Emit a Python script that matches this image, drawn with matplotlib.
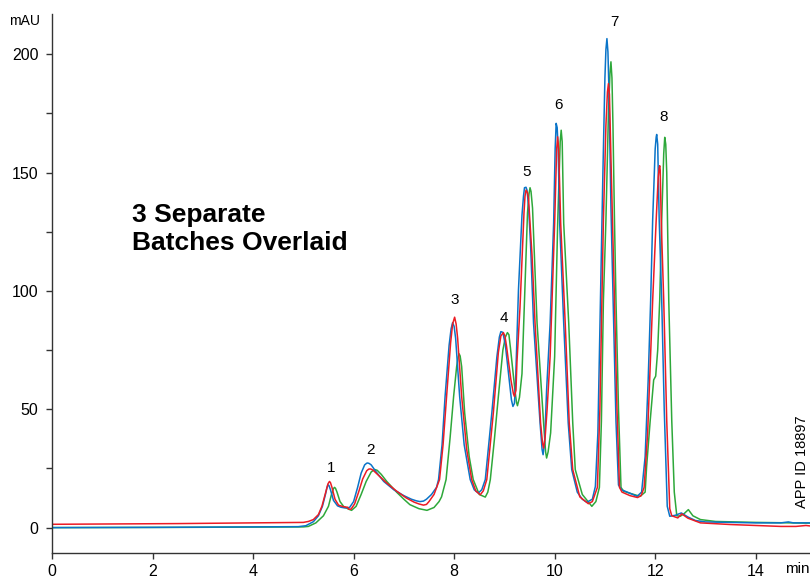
import matplotlib
matplotlib.use("Agg")
import matplotlib.pyplot as plt
from matplotlib.ticker import MultipleLocator

# --- data (time in min, signal in mAU) ---
blue_t = [0.0, 2.0, 4.0, 4.9, 5.05, 5.2, 5.3, 5.38, 5.44, 5.47, 5.49, 5.51, 5.54, 5.6, 5.68,
          5.75, 5.83, 5.92, 6.0, 6.08, 6.15, 6.22, 6.26, 6.28, 6.31, 6.35, 6.45, 6.6, 6.8, 7.0,
          7.15, 7.25, 7.32, 7.39, 7.45, 7.55, 7.65, 7.69, 7.76, 7.82, 7.9, 7.94, 7.97, 8.0, 8.03,
          8.11, 8.2, 8.32, 8.4, 8.48, 8.55, 8.62, 8.75, 8.85, 8.9, 8.93, 8.97, 9.02, 9.08, 9.14,
          9.17, 9.2, 9.22, 9.28, 9.35, 9.38, 9.4, 9.43, 9.45, 9.48, 9.52, 9.58, 9.71, 9.75, 9.77,
          9.8, 9.84, 9.91, 9.98, 10.01, 10.03, 10.05, 10.07, 10.1, 10.18, 10.27, 10.34, 10.45,
          10.55, 10.64, 10.75, 10.81, 10.86, 10.91, 10.96, 11.0, 11.02, 11.04, 11.06, 11.08, 11.12,
          11.17, 11.22, 11.27, 11.33, 11.5, 11.64, 11.73, 11.8, 11.86, 11.91, 11.95, 12.0, 12.02,
          12.03, 12.05, 12.08, 12.13, 12.18, 12.24, 12.29, 12.4, 12.52, 12.65, 12.8, 13.0, 14.0,
          14.5, 14.65, 14.75, 15.08]
blue_mau = [0.0, 0.1, 0.3, 0.4, 0.8, 2.5, 5.0, 9.0, 14.0, 16.8, 18.1, 17.8, 16.0, 11.5, 9.2,
            8.6, 8.3, 8.5, 11.0, 17.0, 23.0, 26.5, 27.2, 27.3, 27.1, 26.5, 23.5, 19.5, 16.0, 13.5,
            12.0, 11.3, 11.0, 11.2, 12.0, 14.0, 17.0, 20.3, 35.0, 55.4, 77.0, 84.0, 86.6, 85.0, 80.0,
            55.4, 35.0, 20.3, 16.0, 14.6, 16.0, 20.3, 48.4, 72.0, 80.5, 82.8, 82.5, 77.0, 65.3, 54.0,
            51.2, 52.5, 60.0, 100.4, 132.0, 140.0, 143.6, 143.8, 142.6, 136.0, 120.0, 86.4, 44.2, 33.0, 30.8,
            36.0, 58.2, 86.4, 128.6, 160.0, 170.8, 169.0, 160.0, 128.6, 86.4, 44.2, 24.5, 15.0,
            12.0, 10.7, 12.0, 17.4, 40.0, 96.0, 150.0, 190.0, 202.0, 206.6, 201.0, 185.0, 135.0,
            90.0, 45.0, 18.0, 16.0, 14.5, 13.2, 15.0, 30.0, 62.0, 96.0, 130.0, 160.0, 165.0,
            166.1, 162.0, 130.0, 96.0, 50.0, 9.0, 4.8, 5.2, 6.2, 4.5, 3.0, 2.4, 2.0,
            2.0, 2.4, 2.0, 2.0]

red_t = [0.0, 2.5, 5.0, 5.1, 5.2, 5.3, 5.37, 5.44, 5.49, 5.52, 5.54, 5.57, 5.63, 5.7, 5.8,
         5.88, 5.9, 5.95, 6.02, 6.1, 6.18, 6.26, 6.3, 6.33, 6.36, 6.4, 6.5, 6.65, 6.85, 7.05,
         7.2, 7.3, 7.39, 7.45, 7.5, 7.6, 7.71, 7.78, 7.85, 7.93, 7.97, 8.01, 8.04, 8.07, 8.15,
         8.25, 8.35, 8.43, 8.52, 8.58, 8.65, 8.78, 8.88, 8.93, 8.98, 9.01, 9.04, 9.13, 9.18, 9.2,
         9.23, 9.25, 9.31, 9.39, 9.41, 9.43, 9.46, 9.48, 9.55, 9.61, 9.72, 9.76, 9.78, 9.81, 9.85,
         9.91, 10.0, 10.04, 10.06, 10.08, 10.12, 10.21, 10.29, 10.36, 10.5, 10.67, 10.75, 10.85,
         10.9, 10.94, 10.97, 11.02, 11.05, 11.07, 11.09, 11.11, 11.15, 11.19, 11.24, 11.29, 11.34,
         11.5, 11.65, 11.72, 11.78, 11.85, 11.95, 12.02, 12.06, 12.08, 12.09, 12.1, 12.12, 12.17,
         12.23, 12.29, 12.33, 12.45, 12.53, 12.65, 12.9, 13.5, 14.0, 14.5, 14.8, 15.0, 15.08]
red_mau = [1.4, 1.7, 2.2, 2.6, 3.4, 5.5, 9.0, 14.5, 18.5, 19.5, 19.0, 17.0, 12.0, 9.5, 8.8,
           8.6, 7.8, 7.8, 10.0, 15.0, 20.5, 24.0, 24.7, 24.8, 24.6, 24.0, 22.0, 19.0, 15.5, 12.5,
           10.8, 10.0, 9.5, 9.8, 11.0, 14.0, 20.3, 35.0, 55.4, 78.0, 86.0, 88.9, 86.0, 80.0, 55.4,
           33.0, 20.3, 15.5, 13.9, 15.5, 20.3, 48.4, 74.0, 81.0, 82.4, 81.0, 77.0, 62.4, 56.5, 55.4,
           58.0, 70.0, 92.8, 133.0, 140.0, 142.6, 141.5, 139.0, 115.0, 86.4, 44.2, 35.5, 33.6, 38.0, 50.0,
           72.3, 128.6, 160.0, 165.1, 160.0, 128.6, 86.4, 44.2, 24.5, 13.0, 10.1, 11.0, 17.0,
           50.0, 96.0, 130.0, 170.0, 184.0, 187.6, 183.0, 165.0, 130.0, 96.0, 50.0, 17.0, 15.0,
           13.5, 12.7, 13.5, 17.0, 40.0, 96.0, 130.0, 148.0, 152.0, 152.9, 151.0, 130.0, 96.0,
           45.0, 8.0, 5.0, 4.1, 5.8, 4.0, 2.0, 1.3, 0.9, 0.5, 0.5, 0.9, 0.7]

green_t = [0.0, 2.5, 5.0, 5.1, 5.25, 5.4, 5.5, 5.56, 5.6, 5.62, 5.64, 5.67, 5.73, 5.8, 5.9,
           5.96, 6.05, 6.15, 6.25, 6.35, 6.4, 6.43, 6.47, 6.55, 6.66, 6.86, 7.0, 7.12, 7.3, 7.46,
           7.6, 7.7, 7.75, 7.84, 7.92, 7.99, 8.05, 8.08, 8.1, 8.12, 8.15, 8.21, 8.3, 8.38, 8.5,
           8.62, 8.67, 8.72, 8.8, 8.88, 8.97, 9.02, 9.06, 9.09, 9.12, 9.21, 9.24, 9.26, 9.3, 9.35,
           9.46, 9.49, 9.51, 9.53, 9.56, 9.65, 9.78, 9.82, 9.84, 9.87, 9.92, 10.0, 10.06, 10.11,
           10.13, 10.15, 10.18, 10.28, 10.36, 10.41, 10.55, 10.74, 10.82, 10.89, 10.93, 10.97, 11.02,
           11.07, 11.1, 11.12, 11.14, 11.16, 11.19, 11.22, 11.27, 11.32, 11.37, 11.5, 11.7, 11.8,
           11.83, 11.9, 11.97, 12.01, 12.05, 12.09, 12.13, 12.17, 12.19, 12.21, 12.23, 12.27, 12.33,
           12.38, 12.43, 12.5, 12.58, 12.66, 12.75, 12.9, 13.2, 14.0, 15.08]
green_mau = [0.0, 0.1, 0.3, 0.5, 2.0, 5.0, 9.0, 14.0, 16.5, 17.0, 16.6, 15.0, 11.0, 9.0, 7.8,
             7.3, 9.0, 14.0, 19.5, 23.5, 24.3, 24.5, 24.2, 22.5, 19.5, 14.9, 12.0, 9.7, 8.0, 7.3,
             8.5, 11.0, 13.0, 20.3, 38.0, 55.4, 68.0, 72.0, 73.4, 72.5, 68.0, 48.4, 30.0, 20.3, 14.0,
             12.9, 15.0, 20.3, 37.0, 55.4, 75.0, 80.5, 82.4, 81.5, 76.0, 58.0, 53.0, 51.5, 55.0, 65.0,
             133.0, 141.0, 143.6, 142.0, 135.0, 86.4, 44.2, 32.0, 29.4, 32.0, 40.0, 72.3, 128.6, 163.0,
             167.9, 163.0, 128.6, 86.4, 44.2, 24.5, 14.0, 9.0, 11.0, 17.0, 45.0, 96.0, 130.0,
             175.0, 192.0, 196.8, 190.0, 170.0, 130.0, 96.0, 50.0, 17.0, 15.4, 14.5, 13.2, 15.0,
             25.9, 45.0, 62.4, 64.0, 75.0, 96.0, 130.0, 158.0, 164.9, 162.0, 150.0, 96.0, 45.0,
             15.0, 5.0, 4.8, 6.0, 7.6, 5.0, 3.4, 2.6, 2.2, 1.9]

peak_names = ["1", "2", "3", "4", "5", "6", "7", "8"]
peak_label_t = [5.55, 6.33, 8.02, 8.99, 9.45, 10.07, 11.18, 12.16]
peak_label_mau = [25.3, 32.9, 96.2, 88.6, 150.2, 178.5, 213.5, 173.4]

BLUE = "#0a74c8"
RED = "#ec1c24"
GREEN = "#2ea83a"
NARROW = ["Liberation Sans Narrow", "Liberation Sans", "DejaVu Sans"]

fig = plt.figure(figsize=(8.1, 5.78), dpi=100)
ax = fig.add_axes([52 / 810, 25.3 / 578, 758 / 810, 538.7 / 578])

ax.plot(green_t, green_mau, color=GREEN, lw=1.1)
ax.plot(blue_t, blue_mau, color=BLUE, lw=1.1)
ax.plot(red_t, red_mau, color=RED, lw=1.1)

for name, t, v in zip(peak_names, peak_label_t, peak_label_mau):
    ax.text(t, v, name, ha="center", va="center", fontsize=11, family=NARROW)

ax.set_xlim(0, 15.08)
ax.set_ylim(-10.6, 217)
ax.xaxis.set_major_locator(MultipleLocator(2))
ax.yaxis.set_major_locator(MultipleLocator(50))
ax.yaxis.set_minor_locator(MultipleLocator(25))

for side in ("top", "right"):
    ax.spines[side].set_visible(False)
for side in ("left", "bottom"):
    ax.spines[side].set_color("#333333")
    ax.spines[side].set_linewidth(1.0)
ax.tick_params(axis="both", which="both", direction="out", length=4.3, width=1.0, color="#333333")
ax.tick_params(axis="y", pad=5.5)
ax.tick_params(axis="x", pad=3.5)
for lab in ax.get_xticklabels() + ax.get_yticklabels():
    lab.set_family(NARROW)
    lab.set_fontsize(11.5)

fig.text(25 / 810, 1 - 21 / 578, "mAU", ha="center", va="center", fontsize=10, family=NARROW)
fig.text(797 / 810, 1 - 569 / 578, "min", ha="center", va="center", fontsize=11, family=NARROW)
fig.text(801.5 / 810, 1 - 461.5 / 578, "APP ID 18897", rotation=90, ha="center", va="center",
         fontsize=10.5, family=["Liberation Sans", "DejaVu Sans"])
fig.text(132 / 810, 1 - 203 / 578, "3 Separate\nBatches Overlaid", ha="left", va="top",
         fontsize=19, fontweight="bold", linespacing=1.2,
         family=["Liberation Sans", "DejaVu Sans"])

fig.savefig("out.png", dpi=100)
